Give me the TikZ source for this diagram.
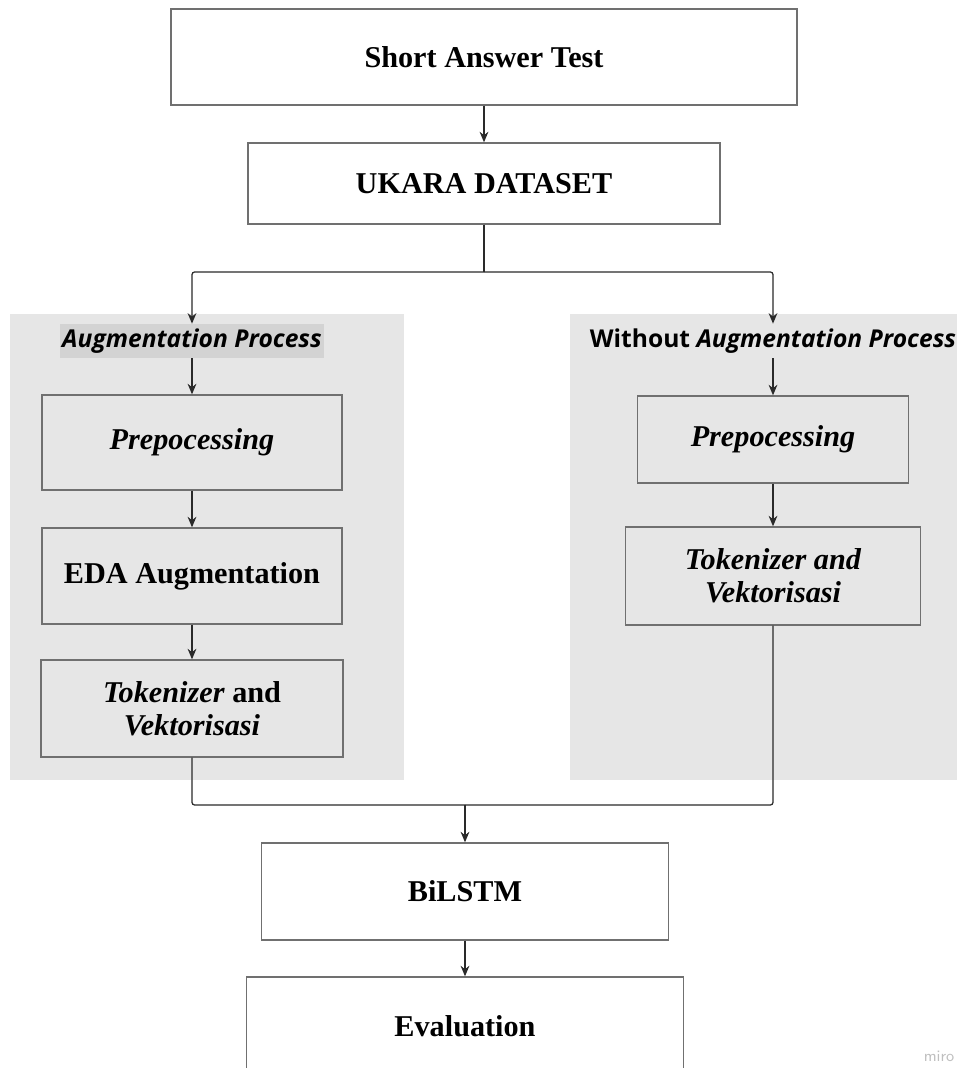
\documentclass[tikz,border=0pt]{standalone}
\usepackage{fontspec}
\setmainfont{Liberation Serif}
\newfontfamily\titolofont{Open Sans}
\usetikzlibrary{arrows.meta}

\definecolor{grigiopannello}{HTML}{E6E6E6}
\definecolor{grigiobordo}{HTML}{707070}
\definecolor{grigiotitolo}{HTML}{D3D3D3}
\definecolor{grigiolinea}{HTML}{2A2A2A}

\tikzset{
  casella/.style={draw=grigiobordo, line width=0.8pt, fill=white, align=center,
    font=\fontsize{17.2}{18.8}\selectfont\bfseries},
  casellagrigia/.style={casella, fill=grigiopannello},
  titolo/.style={font={\titolofont\fontsize{14}{16}\selectfont\bfseries},
    minimum height=0.68cm, inner sep=1pt},
  freccia/.style={-{Stealth[length=6pt,width=5pt]}, line width=0.7pt, draw=grigiolinea},
  linea/.style={line width=0.7pt, draw=grigiolinea, rounded corners=1.5pt}
}

\begin{document}
\begin{tikzpicture}[x=0.02cm,y=-0.02cm]
    \useasboundingbox (0,0) rectangle (957,1068);
    \clip (0,0) rectangle (957,1068);

    % Pannelli di sfondo
    \fill[grigiopannello] (10,314) rectangle (404,780);
    \fill[grigiopannello] (570,314) rectangle (957,780);

    % Caselle principali
    \node[casella, minimum width=12.52cm, minimum height=1.92cm] (test) at (484,57) {Short Answer Test};
    \node[casella, minimum width=9.44cm, minimum height=1.62cm] (ukara) at (484,183.5) {UKARA DATASET};

    % Ramo con augmentation
    \node[titolo, fill=grigiotitolo, minimum width=5.28cm] (augl) at (192,341) {\itshape Augmentation Process};
    \node[casellagrigia, minimum width=6.0cm, minimum height=1.9cm] (prepl) at (192,442.5) {\itshape Prepocessing};
    \node[casellagrigia, minimum width=6.0cm, minimum height=1.92cm] (eda) at (192,576) {EDA Augmentation};
    \node[casellagrigia, minimum width=6.04cm, minimum height=1.94cm] (tokl) at (192,708.5) {\textit{Tokenizer} and\\\textit{Vektorisasi}};

    % Ramo senza augmentation
    \node[titolo] (augr) at (773,341) {Without \itshape Augmentation Process};
    \node[casellagrigia, minimum width=5.42cm, minimum height=1.74cm] (prepr) at (773,439.5) {\itshape Prepocessing};
    \node[casellagrigia, minimum width=5.9cm, minimum height=1.96cm] (tokr) at (773,576) {\itshape Tokenizer and\\\itshape Vektorisasi};

    % Modello e valutazione
    \node[casella, minimum width=8.14cm, minimum height=1.94cm] (bilstm) at (465,891.5) {BiLSTM};
    \node[casella, minimum width=8.74cm, minimum height=1.96cm] (eval) at (465,1026) {Evaluation};

    \node[text=black!25, font=\sffamily\small] (miro) at (939,1056) {miro};

    % Collegamenti
    \coordinate (split) at (484,272);
    \coordinate (merge) at (465,805);
    \draw[freccia] (test) -- (ukara);
    \draw[linea] (ukara.south) -- (split);
    \draw[freccia, rounded corners=1.5pt] (split) -| (augl.north);
    \draw[freccia, rounded corners=1.5pt] (split) -| (augr.north);
    \draw[freccia] (augl) -- (prepl);
    \draw[freccia] (prepl) -- (eda);
    \draw[freccia] (eda) -- (tokl);
    \draw[freccia] (augr) -- (prepr);
    \draw[freccia] (prepr) -- (tokr);
    \draw[linea] (tokl.south) |- (merge);
    \draw[linea] (tokr.south) |- (merge);
    \draw[freccia] (merge) -- (bilstm);
    \draw[freccia] (bilstm) -- (eval);

\end{tikzpicture}
\end{document}
